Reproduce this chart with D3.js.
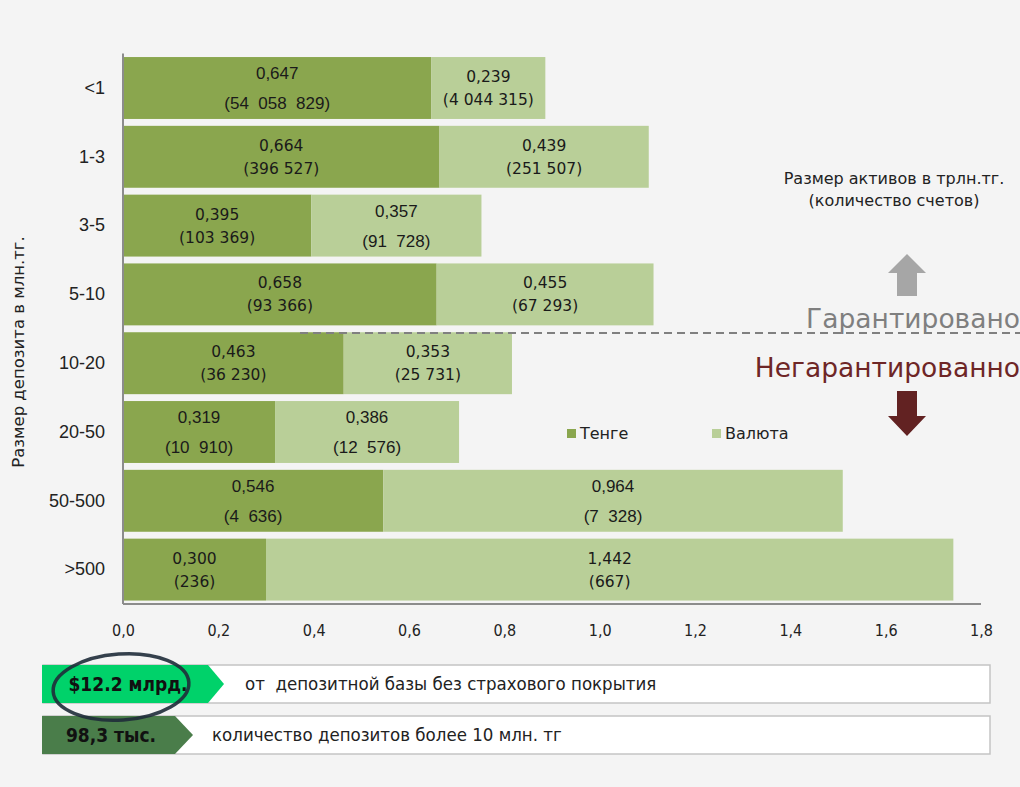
<!DOCTYPE html>
<html>
<head>
<meta charset="utf-8">
<script src="https://cdn.jsdelivr.net/npm/d3@7"></script>
<style>
  body { margin: 0; background: #f4f4f4; }
  svg { display: block; }
</style>
</head>
<body>
<div id="chart"></div>
<script>
        var categories = ["<1", "1-3", "3-5", "5-10", "10-20", "20-50", "50-500", ">500"];
        var tenge  = [0.647, 0.664, 0.395, 0.658, 0.463, 0.319, 0.546, 0.300];
        var valuta = [0.239, 0.439, 0.357, 0.455, 0.353, 0.386, 0.964, 1.442];
        var tengeCount  = ["54  058  829", "396 527", "103 369", "93 366", "36 230", "10  910", "4  636", "236"];
        var valutaCount = ["4 044 315", "251 507", "91  728", "67 293", "25 731", "12  576", "7  328", "667"];
        var xTicks = [0, 0.2, 0.4, 0.6, 0.8, 1.0, 1.2, 1.4, 1.6, 1.8];
        var seriesNames = ["Тенге", "Валюта"];
        // cells that were typed in a different font in the original slide
        var plainCells = ["0-t", "2-v", "5-t", "5-v", "6-t", "6-v"];

        var width = 1020,
            height = 787;

        var svg = d3.select("#chart")
                .append("svg")
                .attr("width", width)
                .attr("height", height);

        svg.append("rect")
            .attr("width", width).attr("height", height)
            .attr("fill", "#f4f4f4");

        var x = d3.scaleLinear().domain([0, 1.8]).range([123, 981]);
        var y = d3.scaleBand().domain(categories).range([53.6, 604])
            .paddingInner(0.1).paddingOuter(0.05);

        var color = d3.scaleOrdinal().domain(seriesNames).range(["#8aa64e", "#b9cf98"]);

        var gothic = "'DejaVu Sans', sans-serif";
        var arial = "'Liberation Sans', Arial, sans-serif";
        var narrow = "'Liberation Sans Narrow', 'DejaVu Sans Condensed', sans-serif";

        function isPlain(d) { return plainCells.indexOf(d.key) >= 0; }

        var rows = categories.map(function(c, i) {
            return {cat: c, i: i, t: tenge[i], v: valuta[i], tc: tengeCount[i], vc: valutaCount[i]};
        });

        // bars
        var segs = [];
        rows.forEach(function(r) {
            segs.push({cat: r.cat, key: r.i + "-t", s: seriesNames[0], x0: 0, x1: r.t, val: r.t, cnt: r.tc});
            segs.push({cat: r.cat, key: r.i + "-v", s: seriesNames[1], x0: r.t, x1: r.t + r.v, val: r.v, cnt: r.vc});
        });

        svg.selectAll(".bar")
            .data(segs)
            .enter().append("rect")
            .attr("class", "bar")
            .attr("x", function(d) { return x(d.x0); })
            .attr("y", function(d) { return y(d.cat); })
            .attr("width", function(d) { return x(d.x1) - x(d.x0); })
            .attr("height", y.bandwidth())
            .attr("fill", function(d) { return color(d.s); });

        var comma = d3.formatLocale({decimal: ",", thousands: " ", grouping: [3], currency: ["", ""]});
        var f3 = comma.format(".3f");

        var lab = svg.selectAll(".lab")
            .data(segs)
            .enter().append("text")
            .attr("class", "lab")
            .attr("text-anchor", "middle")
            .attr("fill", "#1a1a1a")
            .style("white-space", "pre")
            .attr("xml:space", "preserve")
            .style("font-family", function(d) { return isPlain(d) ? arial : gothic; })
            .style("font-size", function(d) { return isPlain(d) ? "17px" : "15.5px"; });

        lab.append("tspan")
            .attr("x", function(d) { return (x(d.x0) + x(d.x1)) / 2; })
            .attr("y", function(d) {
                var c = y(d.cat) + y.bandwidth() / 2;
                return isPlain(d) ? c - 9 : c - 6;
            })
            .text(function(d) { return f3(d.val); });

        lab.append("tspan")
            .attr("x", function(d) { return (x(d.x0) + x(d.x1)) / 2; })
            .attr("y", function(d) {
                var c = y(d.cat) + y.bandwidth() / 2;
                return isPlain(d) ? c + 21 : c + 17;
            })
            .text(function(d) { return "(" + d.cnt + ")"; });

        // axes lines
        svg.append("line")
            .attr("x1", x(0)).attr("x2", x(0))
            .attr("y1", y.range()[0]).attr("y2", y.range()[1])
            .attr("stroke", "#8c8c8c").attr("stroke-width", 2);
        svg.append("line")
            .attr("x1", x(0)).attr("x2", x(1.8))
            .attr("y1", y.range()[1]).attr("y2", y.range()[1])
            .attr("stroke", "#8c8c8c").attr("stroke-width", 2);

        var f1 = comma.format(".1f");
        var xAxis = svg.append("g")
            .attr("transform", "translate(0," + y.range()[1] + ")")
            .call(d3.axisBottom(x).tickValues(xTicks).tickFormat(f1).tickSize(0).tickPadding(21));
        xAxis.select(".domain").remove();
        xAxis.selectAll("text")
            .style("font-family", narrow)
            .style("font-size", "16px")
            .attr("fill", "#222");

        var yAxis = svg.append("g")
            .attr("transform", "translate(" + x(0) + ",0)")
            .call(d3.axisLeft(y).tickSize(0).tickPadding(18));
        yAxis.select(".domain").remove();
        yAxis.selectAll("text")
            .style("font-family", arial)
            .style("font-size", "18px")
            .attr("fill", "#222");

        svg.append("text")
            .attr("transform", "translate(24,352) rotate(-90)")
            .attr("text-anchor", "middle")
            .style("font-family", gothic)
            .style("font-size", "16.5px")
            .attr("fill", "#222")
            .text("Размер депозита в млн.тг.");

        // legend
        var legend = svg.selectAll(".legend")
            .data(seriesNames)
            .enter().append("g")
            .attr("class", "legend")
            .attr("transform", function(d, i) { return "translate(" + (567 + i * 145) + ",429)"; });
        legend.append("rect")
            .attr("width", 9).attr("height", 9)
            .attr("fill", color);
        legend.append("text")
            .attr("x", 13).attr("y", 10)
            .style("font-family", gothic)
            .style("font-size", "16px")
            .attr("fill", "#222")
            .text(function(d) { return d; });

        // notes on the right
        svg.append("text")
            .attr("x", 894).attr("y", 184)
            .attr("text-anchor", "middle")
            .style("font-family", gothic).style("font-size", "16px").attr("fill", "#222")
            .text("Размер активов в трлн.тг.");
        svg.append("text")
            .attr("x", 894).attr("y", 206)
            .attr("text-anchor", "middle")
            .style("font-family", gothic).style("font-size", "16px").attr("fill", "#222")
            .text("(количество счетов)");

        svg.append("path")
            .attr("d", "M907,254 L926,273 L917,273 L917,296 L897,296 L897,273 L888,273 Z")
            .attr("fill", "#a6a6a6");

        svg.append("text")
            .attr("x", 1020).attr("y", 328)
            .attr("text-anchor", "end")
            .style("font-family", gothic).style("font-size", "26.5px").attr("fill", "#7f7f7f")
            .text("Гарантировано");

        svg.append("line")
            .attr("x1", 300).attr("x2", 1020)
            .attr("y1", 333).attr("y2", 333)
            .attr("stroke", "#808080").attr("stroke-width", 2)
            .attr("stroke-dasharray", "8,5");

        svg.append("text")
            .attr("x", 1020).attr("y", 377)
            .attr("text-anchor", "end")
            .style("font-family", gothic).style("font-size", "26.5px").attr("fill", "#6e2626")
            .text("Негарантированно");

        svg.append("path")
            .attr("d", "M897,391 L917,391 L917,416 L926,416 L907,436 L888,416 L897,416 Z")
            .attr("fill", "#622222");

        // bottom boxes
        var boxes = [
            {y: 665, h: 38, fill: "#00d26a", flat: 208, tip: 224, big: "$12.2 млрд.", bigX: 128, txt: "от  депозитной базы без страхового покрытия", txtX: 245},
            {y: 716, h: 38, fill: "#4a7d4a", flat: 175, tip: 193, big: "98,3 тыс.", bigX: 111, txt: "количество депозитов более 10 млн. тг", txtX: 212}
        ];
        var bx = svg.selectAll(".box").data(boxes).enter().append("g").attr("class", "box");
        bx.append("rect")
            .attr("x", 43).attr("y", function(d) { return d.y; })
            .attr("width", 947).attr("height", function(d) { return d.h; })
            .attr("fill", "#ffffff").attr("stroke", "#c4c4c4").attr("stroke-width", 1.5);
        bx.append("path")
            .attr("d", function(d) {
                return "M42," + d.y + " L" + d.flat + "," + d.y + " L" + d.tip + "," + (d.y + d.h / 2) +
                       " L" + d.flat + "," + (d.y + d.h) + " L42," + (d.y + d.h) + " Z";
            })
            .attr("fill", function(d) { return d.fill; });
        bx.append("text")
            .attr("x", function(d) { return d.bigX; })
            .attr("y", function(d) { return d.y + d.h / 2 + 7; })
            .attr("text-anchor", "middle")
            .style("font-family", narrow).style("font-size", "19px").style("font-weight", "bold")
            .attr("fill", "#111")
            .text(function(d) { return d.big; });
        bx.append("text")
            .attr("x", function(d) { return d.txtX; })
            .attr("y", function(d) { return d.y + d.h / 2 + 6; })
            .attr("xml:space", "preserve")
            .style("font-family", narrow).style("font-size", "18.5px")
            .attr("fill", "#222")
            .text(function(d) { return d.txt; });

        // hand drawn ring
        svg.append("ellipse")
            .attr("cx", 121).attr("cy", 687)
            .attr("rx", 68).attr("ry", 33)
            .attr("transform", "rotate(-4,121,687)")
            .attr("fill", "none")
            .attr("stroke", "#1f2c3a").attr("stroke-width", 3.5)
            .attr("opacity", 0.9);
</script>
</body>
</html>
